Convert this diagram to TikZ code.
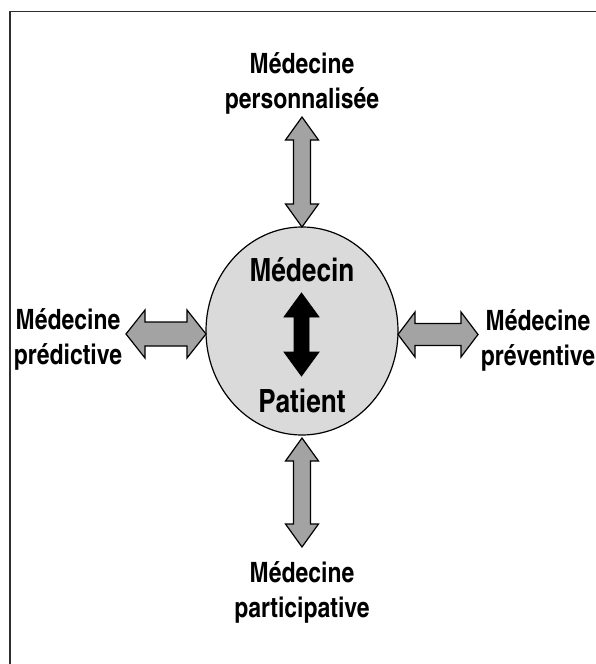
\documentclass[tikz,border=0pt]{standalone}
\usepackage{fontspec}
\usetikzlibrary{shapes.geometric}
\newfontfamily\cnfont{texgyreheroscn-bold.otf}
\definecolor{circfill}{HTML}{DADADA}
\definecolor{arrfill}{HTML}{A3A3A3}
\definecolor{framecol}{HTML}{2E2E2E}
\tikzset{
  outerlabel/.style={font=\cnfont\fontsize{28}{35}\selectfont, align=center, inner sep=0pt, anchor=base},
  innerlabel/.style={font=\cnfont\fontsize{32}{38}\selectfont, inner sep=0pt, anchor=base},
  grayarrow/.style={fill=arrfill, draw=black, line width=1.2pt, line join=miter},
  blackarrow/.style={fill=black, draw=black, line width=0.8pt, line join=miter}
}
% vertical double arrow: style, x, ytop, ybottom, half shaft, half head, head length
\newcommand\vdblarrow[7]{%
  \path[#1] (#2,#3) -- (#2+#6,#3+#7) -- (#2+#5,#3+#7) -- (#2+#5,#4-#7) -- (#2+#6,#4-#7)
    -- (#2,#4) -- (#2-#6,#4-#7) -- (#2-#5,#4-#7) -- (#2-#5,#3+#7) -- (#2-#6,#3+#7) -- cycle;}
% horizontal double arrow: style, y, xleft, xright, half shaft, half head, head length
\newcommand\hdblarrow[7]{%
  \path[#1] (#3,#2) -- (#3+#7,#2-#6) -- (#3+#7,#2-#5) -- (#4-#7,#2-#5) -- (#4-#7,#2-#6)
    -- (#4,#2) -- (#4-#7,#2+#6) -- (#4-#7,#2+#5) -- (#3+#7,#2+#5) -- (#3+#7,#2+#6) -- cycle;}
\begin{document}
\begin{tikzpicture}[x=1pt,y=-1pt]
\useasboundingbox (0,0) rectangle (595,664);
% frame (cropped at right and bottom)
\draw[framecol, line width=1.8pt] (10,680) -- (10,11.5) -- (610,11.5);
% central circle
\node[ellipse, draw=black, line width=1.2pt, fill=circfill, minimum width=192pt, minimum height=208pt, inner sep=0pt] (circ) at (302,331) {};
% arrows
\vdblarrow{grayarrow}{302}{117}{227}{8.5}{16.5}{23}
\vdblarrow{grayarrow}{302}{438}{547}{8.5}{16.5}{23}
\hdblarrow{grayarrow}{334}{126}{206}{12}{24}{19}
\hdblarrow{grayarrow}{334.5}{398}{478}{11}{22.5}{17}
\vdblarrow{blackarrow}{301.5}{293}{376}{7.5}{17.5}{24}
% center texts
\node[innerlabel] (medecin) at (302,281) {Médecin};
\node[innerlabel] (patient) at (302,412) {Patient};
% outer labels (anchor base = baseline of the last line)
\node[outerlabel] (perso) at (302,108) {Médecine\\personnalisée};
\node[outerlabel] (predi) at (68,364) {Médecine\\prédictive};
\node[outerlabel] (preve) at (538,365) {Médecine\\préventive};
\node[outerlabel] (parti) at (302,617) {Médecine\\participative};
\end{tikzpicture}
\end{document}
